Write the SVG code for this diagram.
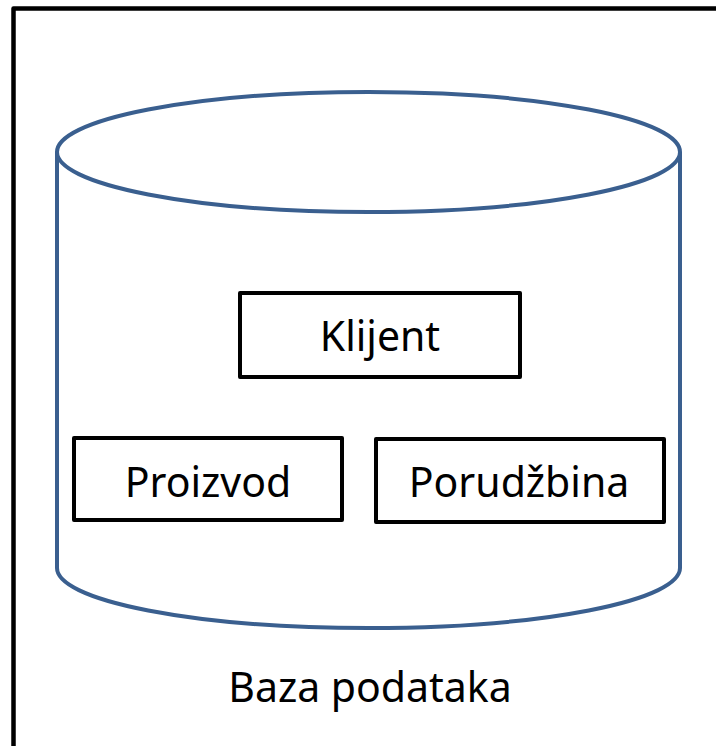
<svg xmlns="http://www.w3.org/2000/svg" width="716" height="746" viewBox="0 0 716 746">
<style>
.box{fill:#fff;stroke:#000;stroke-width:4;stroke-linejoin:round}
.cyl{fill:#fff;stroke:#3a5f8f;stroke-width:4}
.t{font-family:"Noto Sans","Open Sans","Liberation Sans",sans-serif;font-size:41px;fill:#000;text-anchor:middle}
</style>
<rect width="716" height="746" fill="#fff"/>
<g id="frame">
<rect x="13.5" y="8.5" width="730" height="770" fill="none" stroke="#000" stroke-width="4.5" stroke-linejoin="round"/>
</g>
<g id="database">
<path class="cyl" d="M57,152 L57,568 A311.5,60 0 0 0 680,568 L680,152"/>
<ellipse class="cyl" cx="368.5" cy="152" rx="311.5" ry="60"/>
</g>
<g id="klijent">
<rect class="box" x="240" y="293" width="280" height="84"/>
<text class="t" x="380" y="351">Klijent</text>
</g>
<g id="proizvod">
<rect class="box" x="74" y="438" width="268" height="82"/>
<text class="t" x="208" y="497">Proizvod</text>
</g>
<g id="porudzbina">
<rect class="box" x="376" y="439" width="288" height="83"/>
<text class="t" x="519" y="497">Porudžbina</text>
</g>
<g id="label">
<text class="t" x="370" y="702">Baza podataka</text>
</g>
<g id="connectors"></g>
</svg>
